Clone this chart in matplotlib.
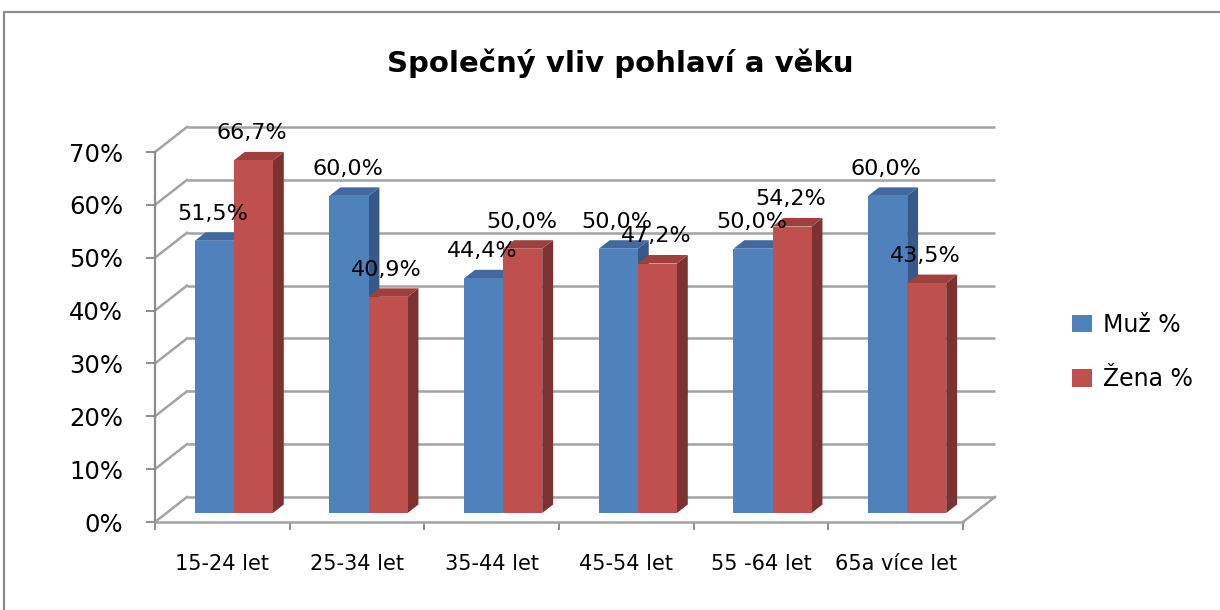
import matplotlib
matplotlib.use("Agg")
import matplotlib.pyplot as plt
import numpy as np
from matplotlib.patches import Polygon
from matplotlib.lines import Line2D

categories = ["15-24 let", "25-34 let", "35-44 let", "45-54 let", "55 -64 let", "65a více let"]
muz = [51.5, 60.0, 44.4, 50.0, 50.0, 60.0]
zena = [66.7, 40.9, 50.0, 47.2, 54.2, 43.5]
series_names = ["Muž %", "Žena %"]
yticks = [0, 10, 20, 30, 40, 50, 60, 70]
title = "Společný vliv pohlaví a věku"

W, H = 1220, 610
fig = plt.figure(figsize=(W / 100, H / 100), dpi=100)
fig.patch.set_facecolor("white")

# outer frame (cropped chart border)
fig.add_artist(Line2D([4 / W, 4 / W, 1.0], [0.0, 598 / H, 598 / H],
                      transform=fig.transFigure, color="#8c8c8c", lw=1.6))

ax = fig.add_axes([155 / W, 88 / H, 808 / W, 370 / H])
ax.set_xlim(0, 6)
ax.set_ylim(0, 70)
ax.set_facecolor("none")

# depth vector (front plane -> back wall) in data units
px_x = 808 / 6
px_y = 370 / 70
Dx = 32 / px_x
Dy = 25 / px_y
f1, f2 = 0.36, 0.70
grid_c = "#a3a3a3"
grid_lw = 1.8

# back wall gridlines + left wall diagonals
for v in yticks:
    ax.plot([Dx, 6 + Dx], [v + Dy, v + Dy], color=grid_c, lw=grid_lw, clip_on=False, zorder=1,
            solid_capstyle="butt")
    ax.plot([0, Dx], [v, v + Dy], color=grid_c, lw=grid_lw, clip_on=False, zorder=1)
# floor right edge
ax.plot([6, 6 + Dx], [0, Dy], color=grid_c, lw=grid_lw, clip_on=False, zorder=1)

# bars
w = 0.29
b0 = f1 * Dy
ddx = (f2 - f1) * Dx
ddy = (f2 - f1) * Dy
idx = np.arange(len(categories))
specs = [
    (muz, -w, "#4F81BD", "#37598A", "#42699F"),
    (zena, 0.0, "#C0504D", "#7D3130", "#9E403D"),
]
z = 3
for i in idx:
    for vals, off, cf, cs, ct in specs:
        v = vals[i]
        xl = i + 0.5 + off + f1 * Dx
        xr = xl + w
        side = Polygon([(xr, b0), (xr + ddx, b0 + ddy), (xr + ddx, b0 + v + ddy), (xr, b0 + v)],
                       closed=True, facecolor=cs, edgecolor="none", zorder=z, clip_on=False)
        top = Polygon([(xl, b0 + v), (xr, b0 + v), (xr + ddx, b0 + v + ddy), (xl + ddx, b0 + v + ddy)],
                      closed=True, facecolor=ct, edgecolor="none", zorder=z, clip_on=False)
        ax.add_patch(side)
        ax.add_patch(top)
        z += 1

bars_m = ax.bar(idx + 0.5 - w + f1 * Dx, muz, w, bottom=b0, align="edge", color="#4F81BD",
                zorder=3, clip_on=False, label=series_names[0])
bars_z = ax.bar(idx + 0.5 + f1 * Dx, zena, w, bottom=b0, align="edge", color="#C0504D",
                zorder=3, clip_on=False, label=series_names[1])
# set proper draw order: each front face just above its own side/top
for k, (bm, bz) in enumerate(zip(bars_m, bars_z)):
    bm.set_zorder(3 + 4 * k + 0.5)
    bz.set_zorder(3 + 4 * k + 2.5)
# renumber side/top zorders consistently
patches = [p for p in ax.patches if isinstance(p, Polygon)]
for j, p in enumerate(patches):
    k = j // 4
    s = (j % 4) // 2
    p.set_zorder(3 + 4 * k + (0.2 if s == 0 else 2.2))

# data labels
for vals, off in [(muz, -w), (zena, 0.0)]:
    for i in idx:
        v = vals[i]
        xc = i + 0.5 + off + f1 * Dx + w / 2
        ax.annotate(f"{v:.1f}%".replace(".", ","), (xc, b0 + v), xytext=(-1, 19.5),
                    textcoords="offset points", ha="center", va="center", fontsize=16,
                    color="black", zorder=100, annotation_clip=False)

# axes styling
for s in ["top", "right"]:
    ax.spines[s].set_visible(False)
ax.spines["left"].set_color("#8c8c8c")
ax.spines["left"].set_linewidth(1.6)
ax.spines["bottom"].set_color(grid_c)
ax.spines["bottom"].set_linewidth(grid_lw)
ax.set_yticks(yticks)
ax.set_yticklabels([f"{t}%" for t in yticks], fontsize=17.5)
ax.tick_params(axis="y", direction="out", length=6.5, width=1.4, color="#8c8c8c", pad=16.5)
ax.set_xticks(np.arange(len(categories) + 1))
ax.set_xticklabels([])
ax.tick_params(axis="x", which="major", direction="out", length=5.8, width=1.4, color="#8c8c8c")
ax.set_xticks(idx + 0.5, minor=True)
ax.set_xticklabels(categories, minor=True, fontsize=15)
ax.tick_params(axis="x", which="minor", length=0, pad=23)

# title
fig.text(620 / W, 1 - 72 / H, title, ha="center", va="baseline", fontsize=21, fontweight="bold")

# legend
fig.legend(handles=[bars_m, bars_z], labels=series_names, loc="center left",
           bbox_to_anchor=(1072 / W, 1 - 352 / H), frameon=False, fontsize=17,
           handlelength=0.85, handleheight=0.75, handletextpad=0.45, labelspacing=1.3,
           borderpad=0, borderaxespad=0)

fig.savefig("out.png", dpi=100)
